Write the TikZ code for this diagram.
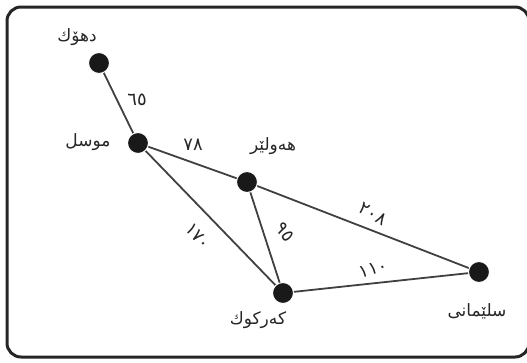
\documentclass[tikz,border=0pt]{standalone}
\usepackage{fontspec}
\newfontfamily\arabicfont[Script=Arabic]{DejaVu Sans}
\TeXXeTstate=1
\usetikzlibrary{positioning}

\begin{document}
\begin{tikzpicture}[x=1pt, y=-1pt, font=\arabicfont\fontsize{17}{20}\selectfont,
  city/.style={circle, fill=black!90, draw=white, line width=1pt, minimum size=21pt, inner sep=0pt},
  road/.style={draw=black!75, line width=1.8pt},
  townlabel/.style={inner sep=1pt, text=black!85},
  distlabel/.style={inner sep=1pt, text=black!85, font=\arabicfont\fontsize{18}{20}\selectfont}]
  \useasboundingbox (0,0) rectangle (527,362);
  \draw[line width=3pt, rounded corners=14pt, draw=black!85] (7,7) rectangle (529,357);
  % roads
  \coordinate (dh) at (99,63);
  \coordinate (ms) at (138,143);
  \coordinate (hw) at (247,182);
  \coordinate (kk) at (283,293);
  \coordinate (sl) at (479,272);
  \draw[road] (dh) -- (ms);
  \draw[road] (ms) -- (hw);
  \draw[road] (ms) -- (kk);
  \draw[road] (hw) -- (kk);
  \draw[road] (hw) -- (sl);
  \draw[road] (kk) -- (sl);
  % cities
  \node[city] (duhok) at (dh) {};
  \node[city] (mosul) at (ms) {};
  \node[city] (erbil) at (hw) {};
  \node[city] (kirkuk) at (kk) {};
  \node[city] (sulay) at (sl) {};
  \node[townlabel] at (77,37)  {\beginR دهۆك\endR};
  \node[townlabel] at (88,142) {\beginR موسل\endR};
  \node[townlabel] at (273,146) {\beginR هەولێر\endR};
  \node[townlabel] at (258,320) {\beginR کەرکوك\endR};
  \node[townlabel] at (477,311) {\beginR سلێمانی\endR};
  % distances
  \node[distlabel] at (137,100) {٦٥};
  \node[distlabel] at (193,145) {٧٨};
  \node[distlabel, rotate=-48] at (198,236) {١٧٠};
  \node[distlabel, rotate=-55] at (285,232) {٩٥};
  \node[distlabel, rotate=-30] at (373,214) {٢٠٨};
  \node[distlabel, rotate=15] at (373,269) {١١٠};
\end{tikzpicture}
\end{document}
